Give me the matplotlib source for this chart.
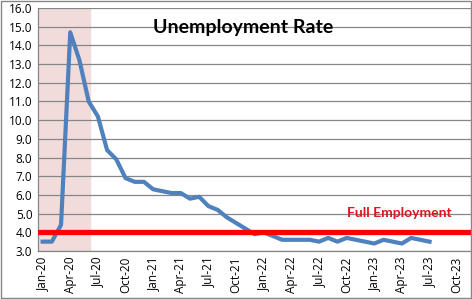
import matplotlib
matplotlib.use("Agg")
import matplotlib.pyplot as plt
from matplotlib.patches import Rectangle

months = ["Jan-20","Feb-20","Mar-20","Apr-20","May-20","Jun-20","Jul-20","Aug-20","Sep-20","Oct-20","Nov-20","Dec-20",
          "Jan-21","Feb-21","Mar-21","Apr-21","May-21","Jun-21","Jul-21","Aug-21","Sep-21","Oct-21","Nov-21","Dec-21",
          "Jan-22","Feb-22","Mar-22","Apr-22","May-22","Jun-22","Jul-22","Aug-22","Sep-22","Oct-22","Nov-22","Dec-22",
          "Jan-23","Feb-23","Mar-23","Apr-23","May-23","Jun-23","Jul-23","Aug-23","Sep-23","Oct-23","Nov-23"]
rate = [3.5, 3.5, 4.4, 14.7, 13.2, 11.0, 10.2, 8.4, 7.9, 6.9, 6.7, 6.7,
        6.3, 6.2, 6.1, 6.1, 5.8, 5.9, 5.4, 5.2, 4.8, 4.5, 4.2, 3.9,
        4.0, 3.8, 3.6, 3.6, 3.6, 3.6, 3.5, 3.7, 3.5, 3.7, 3.6, 3.5,
        3.4, 3.6, 3.5, 3.4, 3.7, 3.6, 3.5]
full_employment = 4.0
recession_start, recession_end = -0.5, 5.15
yticks = [3 + i for i in range(14)]

fig = plt.figure(figsize=(4.72, 2.99), dpi=100)
ax = fig.add_axes([38/472, 48/299, 433/472, 243/299])

ax.axvspan(recession_start, recession_end, color="#F2DCDB", zorder=0)
for y in yticks:
    ax.axhline(y, color="#868686", lw=0.9, zorder=1)
ax.plot(range(len(rate)), rate, color="#4F81BD", lw=3, solid_joinstyle="round", zorder=3)
ax.axhline(full_employment, color="#FF0000", lw=3.8, zorder=4)

ax.set_xlim(-0.5, len(months) - 0.5)
ax.set_ylim(3, 16)
ax.set_yticks(yticks)
ax.set_yticklabels([f"{y:.1f}" for y in yticks], fontsize=8.5, family="Open Sans")
xt = list(range(0, len(months), 3))
ax.set_xticks(xt)
ax.set_xticklabels([months[i] for i in xt], rotation=90, fontsize=8.5, family="Open Sans")
ax.tick_params(length=0, pad=4)
for s in ["top", "right"]:
    ax.spines[s].set_visible(False)
for s in ["left", "bottom"]:
    ax.spines[s].set_color("#868686")
    ax.spines[s].set_linewidth(0.9)

ax.text(0.474, 0.918, "Unemployment Rate", transform=ax.transAxes, ha="center", va="center",
        fontsize=14, fontweight="bold", family="Lato", color="black")
ax.text(38.7, 5.05, "Full Employment", ha="center", va="center", fontsize=10,
        fontweight="bold", family="Lato", color="#E3121B")

fig.patches.append(Rectangle((0.002, 0.003), 0.995, 0.994, transform=fig.transFigure,
                             fill=False, edgecolor="#868686", lw=1))
fig.savefig("out.png", dpi=100)
